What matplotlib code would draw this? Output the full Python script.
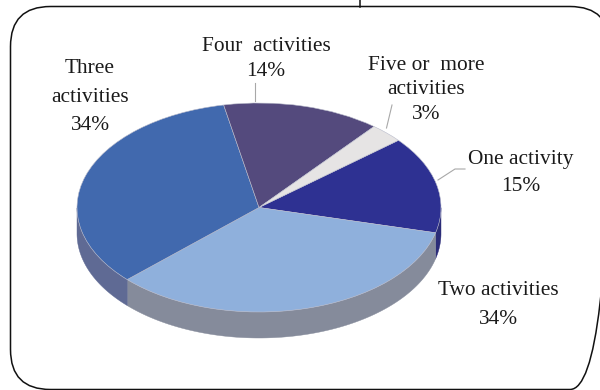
import numpy as np
import matplotlib
matplotlib.use('Agg')
import matplotlib.pyplot as plt
from matplotlib.patches import FancyBboxPatch

categories = ['One activity', 'Two activities', 'Three\nactivities', 'Four  activities', 'Five or  more\nactivities']
values = [15, 34, 34, 14, 3]
top_colors = ['#2E3192', '#8FB0DC', '#4169AE', '#544A7D', '#E6E4E4']
side_colors = ['#2B2C78', '#858B9B', '#5F6A94', '#443C66', '#B8B6B6']

plt.rcParams['font.family'] = ['Liberation Serif', 'DejaVu Serif']

W, H = 600, 390
# pie geometry in pixels
cx, cy, rx, ry, depth = 259, 207.5, 182, 104.5, 26

fig = plt.figure(figsize=(W / 100, H / 100), dpi=100, facecolor='white')

# background axes in pixel coordinates
bg = fig.add_axes([0, 0, 1, 1])
bg.set_xlim(0, W)
bg.set_ylim(H, 0)
bg.axis('off')

# rounded frame, runs off the right edge
rad = 40
frame = FancyBboxPatch((10.5 + rad, 6.5 + rad), 610 - 10.5 - 2 * rad, 389.5 - 6.5 - 2 * rad,
                       boxstyle=f'round,pad={rad},rounding_size={rad}', fc='none', ec='#111111', lw=1.1)
bg.add_patch(frame)
bg.plot([360, 360], [0, 6.5], color='#111111', lw=1.1)

# top of the pie
ax = fig.add_axes([(cx - rx) / W, 1 - (cy + ry) / H, 2 * rx / W, 2 * ry / H])
wedges, _ = ax.pie(values, colors=top_colors, startangle=40, counterclock=False, radius=1,
                   wedgeprops={'edgecolor': '#B9BBCB', 'linewidth': 0.4})
ax.set_aspect('auto')
ax.set_xlim(-1, 1)
ax.set_ylim(-1, 1)
ax.patch.set_alpha(0)

# side wall, only the part facing front
for w, c in zip(wedges, side_colors):
    t = np.radians(np.linspace(w.theta1, w.theta2, 300))
    t = t[np.sin(t) <= 0]
    if len(t) < 2:
        continue
    t = t[np.argsort(np.mod(t, 2 * np.pi))]
    x = cx + rx * np.cos(t)
    y = cy - ry * np.sin(t)
    bg.fill(np.r_[x, x[::-1]], np.r_[y, y[::-1] + depth], fc=c, ec=c, lw=0.3)

# labels
label_pos = [(521, 173), (498, 305), (90, 97), (266, 59), (426, 90)]
label_spacing = [1.55, 1.7, 1.65, 1.42, 1.42]
for name, v, (lx, ly), ls in zip(categories, values, label_pos, label_spacing):
    bg.text(lx, ly, f'{name}\n{v}%', ha='center', va='center', ma='center',
            fontsize=15.4, linespacing=ls, color='#1A1A1A')

# leader lines
leader_color = '#A8A8A8'
bg.plot([255, 255], [83, 101], color=leader_color, lw=0.8)
bg.plot([392, 386.5], [105, 128], color=leader_color, lw=0.8)
bg.plot([465, 455, 438], [169, 169, 180], color=leader_color, lw=0.8)

fig.savefig('out.png', dpi=100, facecolor='white')
